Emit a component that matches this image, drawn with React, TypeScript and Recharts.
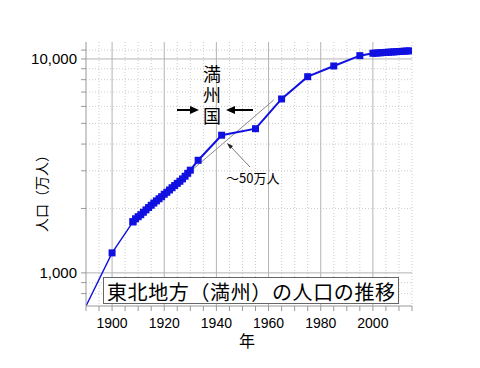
import { CartesianGrid, Line, LineChart, XAxis, YAxis } from "recharts";

// population of the North-East (Manchuria), unit: 10,000 people
const EARLY_YEARS = [1890, 1900, 1908];
const EARLY_POP = [700, 1240, 1733];

const YEARS = [
  1908, 1909, 1910, 1911, 1912, 1913, 1914, 1915, 1916, 1917, 1918, 1919, 1920,
  1921, 1922, 1923, 1924, 1925, 1926, 1927, 1928, 1929, 1930, 1933, 1942, 1955,
  1965, 1975, 1985, 1995, 2000, 2001, 2002, 2003, 2004, 2005, 2006, 2007, 2008,
  2009, 2010, 2011, 2012, 2013, 2014,
];
const POP = [
  1733, 1790, 1830, 1870, 1920, 1970, 2020, 2070, 2120, 2170, 2220, 2270, 2330,
  2380, 2440, 2500, 2560, 2620, 2680, 2750, 2830, 2920, 3020, 3360, 4400, 4720,
  6500, 8260, 9270, 10360, 10630, 10650, 10670, 10690, 10710, 10730, 10750,
  10770, 10790, 10810, 10830, 10850, 10870, 10890, 10910,
];

// thin extrapolation line of the pre-1930 growth
const TREND_YEARS = [1915, 1962];
const TREND_POP = [2075, 6430];

const X_MAJOR = [1900, 1920, 1940, 1960, 1980, 2000];
const X_MINOR = [
  1895, 1905, 1910, 1915, 1925, 1930, 1935, 1945, 1950, 1955, 1965, 1970, 1975,
  1985, 1990, 1995, 2005, 2010, 2015,
];
const X_TICKS = [1890, ...X_MINOR, ...X_MAJOR].sort((a, b) => a - b);

const Y_MAJOR = [1000, 10000];
const Y_MINOR = [800, 900, 2000, 3000, 4000, 5000, 6000, 7000, 8000, 9000, 11000];
const Y_TICKS = [...Y_MINOR, ...Y_MAJOR].sort((a, b) => a - b);

const early = EARLY_YEARS.map((year, i) => ({ year, pop: EARLY_POP[i] }));
const main = YEARS.map((year, i) => ({ year, pop: POP[i] }));
const trend = TREND_YEARS.map((year, i) => ({ year, pop: TREND_POP[i] }));

const BLUE = "#1010e0";
const NUM_FONT = "'Liberation Sans', Arial, sans-serif";
const JP_FONT = "'Noto Sans CJK JP', sans-serif";

function Square(props: any) {
  const { cx, cy, payload, index } = props;
  if (cx == null || cy == null || payload?.year === 1890) return <g key={`n${index}`} />;
  return <rect key={`s${index}`} x={cx - 3.5} y={cy - 3.5} width={7} height={7} fill={BLUE} />;
}

export default function App() {
  return (
    <div style={{ position: "absolute", left: 0, top: 0, width: 480, height: 368, background: "#fff" }}>
      <LineChart
        width={480}
        height={368}
        margin={{ top: 42, right: 68, bottom: 32, left: 16 }}
      >
        <CartesianGrid
          stroke="#cccccc"
          strokeDasharray="1 2"
          verticalValues={X_MINOR}
          horizontalValues={Y_MINOR}
        />
        <CartesianGrid stroke="#b4b4b4" verticalValues={X_MAJOR} horizontalValues={Y_MAJOR} />
        <XAxis
          type="number"
          dataKey="year"
          domain={[1890, 2015]}
          allowDataOverflow
          ticks={X_TICKS}
          interval={0}
          tickFormatter={(v: number) => (v % 20 === 0 ? String(v) : "")}
          stroke="#999"
          tickSize={5}
          tickMargin={7}
          height={30}
          tick={{ fill: "#000", fontSize: 14, fontFamily: NUM_FONT }}
        />
        <YAxis
          type="number"
          dataKey="pop"
          scale="log"
          domain={[700, 12000]}
          allowDataOverflow
          ticks={Y_TICKS}
          interval={0}
          tickFormatter={(v: number) => (v === 1000 ? "1,000" : v === 10000 ? "10,000" : "")}
          stroke="#999"
          tickSize={5}
          tickMargin={4}
          width={70}
          tick={{ fill: "#000", fontSize: 15, fontFamily: NUM_FONT }}
        />
        <Line
          data={trend}
          dataKey="pop"
          stroke="#8a8a8a"
          strokeWidth={1}
          dot={false}
          isAnimationActive={false}
        />
        <Line
          data={early}
          dataKey="pop"
          stroke={BLUE}
          strokeWidth={1.4}
          dot={Square}
          isAnimationActive={false}
        />
        <Line
          data={main}
          dataKey="pop"
          stroke={BLUE}
          strokeWidth={2}
          dot={Square}
          isAnimationActive={false}
        />
      </LineChart>

      <svg
        width={480}
        height={368}
        style={{ position: "absolute", left: 0, top: 0, pointerEvents: "none" }}
        fontFamily={JP_FONT}
      >
        {/* axis titles */}
        <text
          transform="translate(41,190) rotate(-90)"
          textAnchor="middle"
          dominantBaseline="central"
          fontSize={14}
        >
          人口（万人）
        </text>
        <text x={247} y={340} textAnchor="middle" dominantBaseline="central" fontSize={16}>
          年
        </text>

        {/* 満州国 period, written vertically */}
        <text
          x={212}
          y={65}
          fontSize={18}
          letterSpacing={3}
          style={{ writingMode: "vertical-rl" }}
        >
          満州国
        </text>
        <line x1={177} y1={110} x2={191} y2={110} stroke="#000" strokeWidth={2} />
        <polygon points="199,110 190,106 190,114" fill="#000" />
        <line x1={253} y1={110} x2={234} y2={110} stroke="#000" strokeWidth={2} />
        <polygon points="226,110 235,106 235,114" fill="#000" />

        {/* ~50万人 callout */}
        <line x1={250} y1={167} x2={230} y2={146} stroke="#555" strokeWidth={0.8} />
        <polygon points="227,143 233,146 230,149" fill="#222" />
        <text x={226} y={177} dominantBaseline="central" fontSize={13}>
          ～50万人
        </text>

        {/* title box */}
        <rect x={103.5} y={277.5} width={295} height={26} fill="#fff" stroke="#666" />
        <text
          x={107}
          y={291}
          dominantBaseline="central"
          fontSize={20}
          textLength={288}
          lengthAdjust="spacing"
        >
          東北地方（満州）の人口の推移
        </text>
      </svg>
    </div>
  );
}
